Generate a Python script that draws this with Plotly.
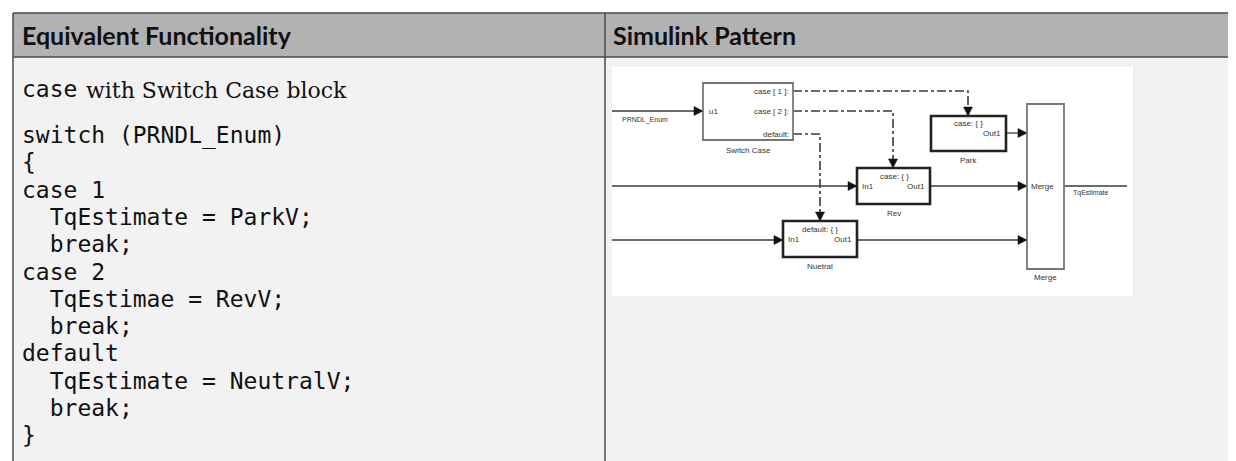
import plotly.graph_objects as go

W, H = 1236, 461

# ---------------- content (data) ----------------
header_labels = ["Equivalent Functionality", "Simulink Pattern"]
intro_keyword = "case"
intro_text = "with Switch Case block"
code_lines = [
    "switch (PRNDL_Enum)",
    "{",
    "case 1",
    "  TqEstimate = ParkV;",
    "  break;",
    "case 2",
    "  TqEstimae = RevV;",
    "  break;",
    "default",
    "  TqEstimate = NeutralV;",
    "  break;",
    "}",
]
block_names = ["Switch Case", "Park", "Rev", "Nuetral", "Merge"]
block_titles = ["", "case: { }", "case: { }", "default: { }", ""]
switch_ports = ["case [ 1 ]:", "case [ 2 ]:", "default:"]
signal_names = ["PRNDL_Enum", "TqEstimate"]

# ---------------- layout / styles ----------------
TABLE_L, TABLE_T, HEADER_B, COL_DIV, TABLE_R = 5, 5, 49, 597, 1236
HEADER_BG, BODY_BG, BORDER = "#b2b2b2", "#f2f2f2", "#4a4a4a"
CODE_FONT = "DejaVu Sans Mono, Liberation Mono, monospace"
SERIF_FONT = "DejaVu Serif, Liberation Serif, serif"
HEAD_FONT = "Lato, Roboto, Liberation Sans, sans-serif"
DIAG_FONT = "Liberation Sans, Arial, sans-serif"
CODE_SIZE = 23
CODE_Y0, CODE_DY = 127, 27.3
INTRO_Y = 81
TEXT_X = 12

IMG_BOX = (604, 59, 1126, 288)
block_boxes = [(695, 75, 785, 132), (923, 108, 998, 143), (849, 160, 922, 196),
               (775, 213, 849, 249), (1019, 96, 1056, 261)]
block_thick = [False, True, True, True, False]
label_pos = [(740, 142), (960, 152), (886, 205), (812, 258), (1037, 269)]
title_pos = [None, (960, 115), (886, 168), (812, 221), None]
port_y = [83, 103, 126]

solid_lines = [  # (points, arrow)
    ([(604, 103), (695, 103)], True),
    ([(604, 178), (849, 178)], True),
    ([(604, 232), (775, 232)], True),
    ([(998, 125), (1019, 125)], True),
    ([(922, 178), (1019, 178)], True),
    ([(849, 232), (1019, 232)], True),
    ([(1056, 178), (1119, 178)], False),
]
action_lines = [
    [(785, 83), (960, 83), (960, 108)],
    [(785, 103), (885, 103), (885, 160)],
    [(785, 126), (812, 126), (812, 213)],
]

fig = go.Figure()
fig.add_trace(go.Scatter(x=[0, W], y=[0, H], mode="markers",
                         marker=dict(opacity=0), hoverinfo="skip", showlegend=False))

shapes = []
annos = []

# table backgrounds
shapes.append(dict(type="rect", x0=TABLE_L, x1=TABLE_R, y0=HEADER_B, y1=H + 5,
                   fillcolor=BODY_BG, line=dict(width=0), layer="below"))
shapes.append(dict(type="rect", x0=TABLE_L, x1=TABLE_R, y0=TABLE_T, y1=HEADER_B,
                   fillcolor=HEADER_BG, line=dict(width=0), layer="below"))
for (x0, y0, x1, y1) in [(TABLE_L, TABLE_T, TABLE_R, TABLE_T), (TABLE_L, HEADER_B, TABLE_R, HEADER_B),
                         (TABLE_L, TABLE_T, TABLE_L, H + 5), (COL_DIV, TABLE_T, COL_DIV, H + 5)]:
    shapes.append(dict(type="line", x0=x0, x1=x1, y0=y0, y1=y1,
                       line=dict(color=BORDER, width=1.5)))

# headers
for lab, hx in zip(header_labels, [TEXT_X, COL_DIV + 6]):
    annos.append(dict(x=hx, y=27, text=lab, xanchor="left", yanchor="middle",
                      showarrow=False, font=dict(family=HEAD_FONT, size=25, color="#111", weight="bold")))

# intro line
annos.append(dict(x=TEXT_X, y=INTRO_Y, text=intro_keyword, xanchor="left", yanchor="middle",
                  showarrow=False, font=dict(family=CODE_FONT, size=CODE_SIZE, color="#111")))
annos.append(dict(x=TEXT_X + 64, y=INTRO_Y + 1, text=intro_text, xanchor="left", yanchor="middle",
                  showarrow=False, font=dict(family=SERIF_FONT, size=22, color="#111")))

# code lines
for i, line in enumerate(code_lines):
    stripped = line.lstrip(" ")
    txt = "\u00a0" * (len(line) - len(stripped)) + stripped
    annos.append(dict(x=TEXT_X, y=CODE_Y0 + i * CODE_DY, text=txt, xanchor="left", yanchor="middle",
                      showarrow=False, font=dict(family=CODE_FONT, size=CODE_SIZE, color="#111")))

# diagram image area
shapes.append(dict(type="rect", x0=IMG_BOX[0], y0=IMG_BOX[1], x1=IMG_BOX[2], y1=IMG_BOX[3],
                   fillcolor="white", line=dict(width=0)))
shapes.append(dict(type="line", x0=IMG_BOX[2], x1=IMG_BOX[2], y0=IMG_BOX[1], y1=IMG_BOX[3],
                   line=dict(color="#ece8d8", width=1.5)))

LINE_C = "#3a3a3a"


def arrowhead(px, py, dx, dy, L=9, Wd=4.5):
    nx, ny = -dy, dx
    bx, by = px - dx * L, py - dy * L
    return dict(type="path",
                path=f"M{px},{py} L{bx + nx * Wd},{by + ny * Wd} L{bx - nx * Wd},{by - ny * Wd} Z",
                fillcolor="#111", line=dict(color="#111", width=0.5))


def polyline(pts, dash="solid", width=1.3):
    path = "M" + " L".join(f"{x},{y}" for x, y in pts)
    return dict(type="path", path=path, line=dict(color=LINE_C, width=width, dash=dash))


def direction(p0, p1):
    dx, dy = p1[0] - p0[0], p1[1] - p0[1]
    n = (dx * dx + dy * dy) ** 0.5
    return dx / n, dy / n


for pts, arr in solid_lines:
    shapes.append(polyline(pts))
    if arr:
        d = direction(pts[-2], pts[-1])
        shapes.append(arrowhead(pts[-1][0], pts[-1][1], *d))

for pts in action_lines:
    shapes.append(polyline(pts, dash="dashdot", width=1.6))
    d = direction(pts[-2], pts[-1])
    shapes.append(arrowhead(pts[-1][0], pts[-1][1], *d))

# blocks
small = dict(family=DIAG_FONT, size=8, color="#333")
for name, box, thick, lp, title, tp in zip(block_names, block_boxes, block_thick,
                                           label_pos, block_titles, title_pos):
    x0, y0, x1, y1 = box
    shapes.append(dict(type="rect", x0=x0, y0=y0, x1=x1, y1=y1, fillcolor="white",
                       line=dict(color="#222" if thick else "#777", width=2.6 if thick else 1.8)))
    annos.append(dict(x=lp[0], y=lp[1], text=name, xanchor="center", yanchor="middle",
                      showarrow=False, font=small))
    if title:
        annos.append(dict(x=tp[0], y=tp[1], text=title, xanchor="center", yanchor="middle",
                          showarrow=False, font=small))

# ports of the Switch Case block
sx0, sy0, sx1, sy1 = block_boxes[0]
annos.append(dict(x=sx0 + 4, y=103, text="u1", xanchor="left", yanchor="middle",
                  showarrow=False, font=small))
for lab, py in zip(switch_ports, port_y):
    annos.append(dict(x=sx1 - 2, y=py, text=lab, xanchor="right", yanchor="middle",
                      showarrow=False, font=small))

# subsystem ports
for bi, has_in in [(1, False), (2, True), (3, True)]:
    x0, y0, x1, y1 = block_boxes[bi]
    py = y0 + (y1 - y0) * (0.48 if bi == 1 else 0.5)
    if has_in:
        annos.append(dict(x=x0 + 3, y=py, text="In1", xanchor="left", yanchor="middle",
                          showarrow=False, font=small))
    annos.append(dict(x=x1 - 3, y=py + (0 if has_in else 1), text="Out1", xanchor="right",
                      yanchor="middle", showarrow=False, font=small))

mx0, my0, mx1, my1 = block_boxes[4]
annos.append(dict(x=mx0 + 2, y=178, text="Merge", xanchor="left", yanchor="middle",
                  showarrow=False, font=small))

# signal labels
annos.append(dict(x=612, y=112, text=signal_names[0], xanchor="left", yanchor="middle",
                  showarrow=False, font=dict(family=DIAG_FONT, size=7, color="#333")))
annos.append(dict(x=1063, y=185, text=signal_names[1], xanchor="left", yanchor="middle",
                  showarrow=False, font=dict(family=DIAG_FONT, size=7, color="#333")))

fig.update_layout(
    width=W, height=H, margin=dict(l=0, r=0, t=0, b=0),
    paper_bgcolor="white", plot_bgcolor="white",
    shapes=shapes, annotations=annos, showlegend=False,
    xaxis=dict(range=[0, W], visible=False, fixedrange=True),
    yaxis=dict(range=[H, 0], visible=False, fixedrange=True),
)
fig.write_html("out.html", config={"displayModeBar": False})
